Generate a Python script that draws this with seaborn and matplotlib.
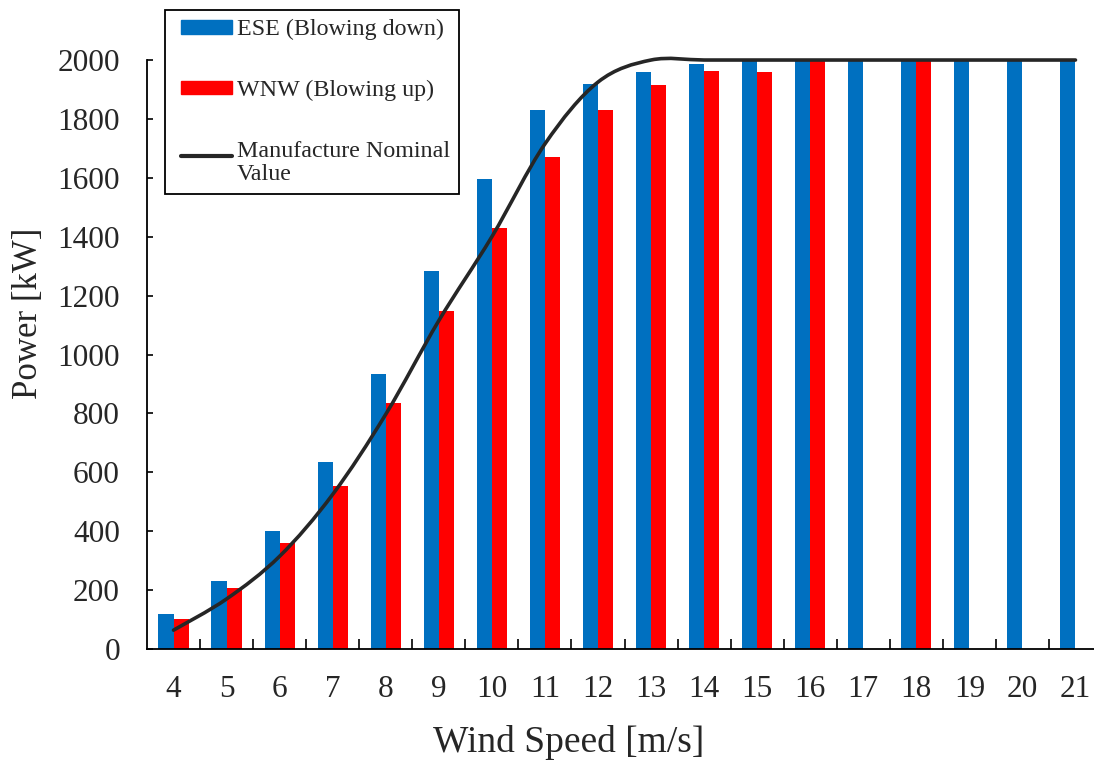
import numpy as np
import pandas as pd
import matplotlib
matplotlib.use("Agg")
import matplotlib.pyplot as plt
from matplotlib.path import Path
from matplotlib.patches import PathPatch, Patch, Rectangle
from matplotlib.lines import Line2D
from matplotlib.legend_handler import HandlerPatch, HandlerLine2D
import seaborn as sns

# Wind speed bins [m/s]
speeds = [4, 5, 6, 7, 8, 9, 10, 11, 12, 13, 14, 15, 16, 17, 18, 19, 20, 21]

# Measured power per bin [kW]; NaN where no data for that direction
ese_power = [120, 230, 400, 635, 934, 1284, 1596, 1830, 1918, 1959, 1986, 1997,
             2000, 2000, 2000, 2000, 2000, 2000]
wnw_power = [102, 207, 360, 553, 835, 1148, 1430, 1671, 1830, 1915, 1962, 1958,
             1995, np.nan, 2000, np.nan, np.nan, np.nan]

# Manufacturer power curve [kW]
nominal_power = [64, 170, 315, 525, 797, 1115, 1400, 1715, 1925, 2000, 2000, 2000,
                 2000, 2000, 2000, 2000, 2000, 2000]

series_names = ["ESE (Blowing down)", "WNW (Blowing up)"]
line_name = "Manufacture Nominal\nValue"
colors = ["#0070C0", "#FF0000"]

df = pd.DataFrame({
    "speed": speeds * 2,
    "power": ese_power + wnw_power,
    "direction": [series_names[0]] * len(speeds) + [series_names[1]] * len(speeds),
}).dropna()

sns.set_style("white")
plt.rcParams["font.family"] = ["Liberation Serif", "DejaVu Serif"]

fig = plt.figure(figsize=(10.94, 7.62), dpi=100)
ax = fig.add_axes([147 / 1094, 113 / 762, 955 / 1094, 603.7 / 762])

sns.barplot(data=df, x="speed", y="power", hue="direction",
            order=speeds, hue_order=series_names, palette=colors,
            width=0.57, gap=0, saturation=1, errorbar=None,
            legend=False, ax=ax, linewidth=0)

# Smoothed nominal curve (cubic Bezier through each point)
xs = np.arange(len(speeds), dtype=float)
ys = np.asarray(nominal_power, dtype=float)
n = len(xs)
verts = [(xs[0], ys[0])]
codes = [Path.MOVETO]
for i in range(n - 1):
    a = max(i - 1, 0)
    b = min(i + 2, n - 1)
    c1 = (xs[i] + (xs[i + 1] - xs[a]) / 6, ys[i] + (ys[i + 1] - ys[a]) / 6)
    c2 = (xs[i + 1] - (xs[b] - xs[i]) / 6, ys[i + 1] - (ys[b] - ys[i]) / 6)
    verts += [c1, c2, (xs[i + 1], ys[i + 1])]
    codes += [Path.CURVE4] * 3
ax.add_patch(PathPatch(Path(verts, codes), facecolor="none",
                       edgecolor="#262626", linewidth=2.6, capstyle="round",
                       zorder=5))

ax.set_xlim(-0.5, len(speeds) - 0.5)
ax.set_ylim(0, 2050)
ax.set_yticks(np.arange(0, 2001, 200))
ax.spines["left"].set_bounds(0, 2000)
for s in ["top", "right"]:
    ax.spines[s].set_visible(False)
for s in ["left", "bottom"]:
    ax.spines[s].set_color("black")
    ax.spines[s].set_linewidth(1.3)

ax.set_xticks(xs)
ax.set_xticklabels([str(s) for s in speeds])
ax.set_xticks(xs[:-1] + 0.5, minor=True)
ax.tick_params(axis="x", which="major", length=0, pad=19, labelsize=22.5)
ax.tick_params(axis="x", which="minor", direction="in", length=7,
               width=1.2, color="black", bottom=True)
ax.tick_params(axis="y", direction="in", length=4, width=1.2, color="black",
               pad=19.5, labelsize=22.5, left=True)

ax.set_xlabel("Wind Speed [m/s]", fontsize=27)
ax.xaxis.set_label_coords(0.441, -0.1557)
ax.xaxis.label.set_va("center")
ax.set_ylabel("Power [kW]", fontsize=25)
ax.yaxis.set_label_coords(-0.1236, 0.556)
ax.yaxis.label.set_va("center")

# Legend keys indented a little from the frame
INDENT = 5.0  # points


def indented_rect(legend, orig_handle, xdescent, ydescent, width, height, fontsize):
    return Rectangle((-xdescent + INDENT, -ydescent), width - INDENT, height)


class IndentedLine(HandlerLine2D):
    def create_artists(self, legend, orig_handle, xdescent, ydescent,
                       width, height, fontsize, trans):
        return super().create_artists(legend, orig_handle, xdescent - INDENT,
                                      ydescent - 0.6 * fontsize,
                                      width - INDENT, height, fontsize, trans)


handles = [Patch(color=colors[0]), Patch(color=colors[1]),
           Line2D([], [], color="#262626", linewidth=3)]
leg = fig.legend(handles, series_names + [line_name],
                 loc="upper left", bbox_to_anchor=(165 / 1094, 1 - 10 / 762),
                 bbox_transform=fig.transFigure, borderaxespad=0,
                 fontsize=17.3, frameon=True, fancybox=False, framealpha=1,
                 edgecolor="black", handlelength=2.4, handleheight=0.5,
                 handletextpad=0.2, labelspacing=1.65, borderpad=0.38,
                 handler_map={Patch: HandlerPatch(patch_func=indented_rect),
                              Line2D: IndentedLine()})
leg.get_frame().set_linewidth(1.3)
leg.get_texts()[2].set_linespacing(1.15)

fig.savefig("out.png", dpi=100)
